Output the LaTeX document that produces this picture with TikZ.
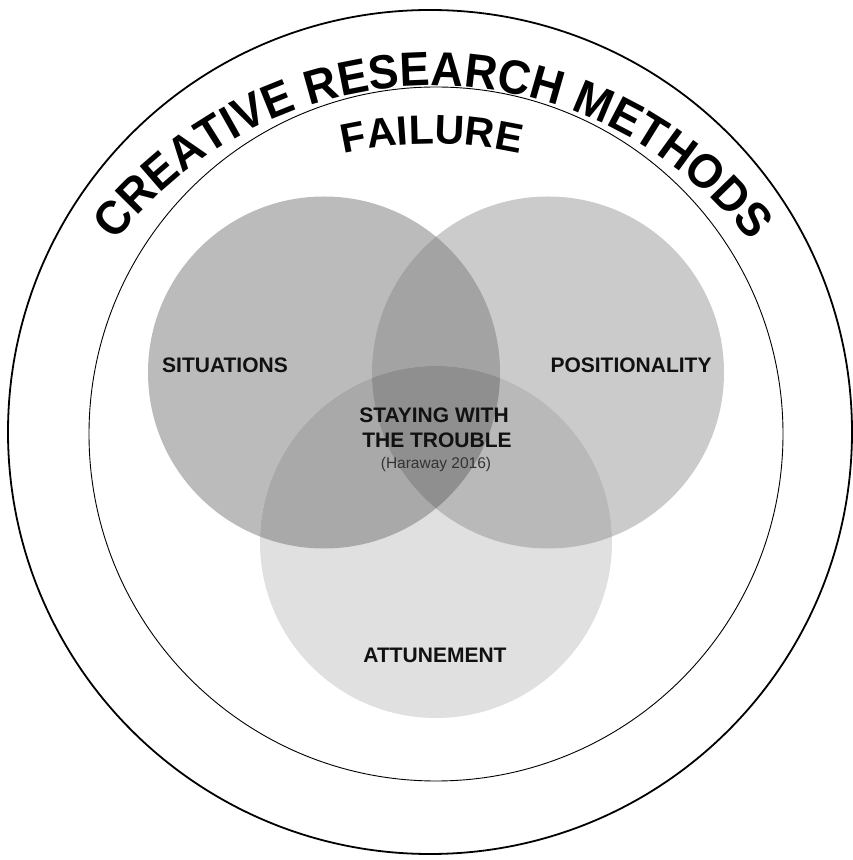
\documentclass[tikz,border=0pt]{standalone}
\usepackage{fontspec}
\setmainfont{Liberation Sans}
\newfontfamily\titlefont[FakeStretch=0.94]{Liberation Sans}
\usetikzlibrary{decorations.text,calc}
\definecolor{cL}{HTML}{BBBBBB}
\definecolor{cR}{HTML}{CBCBCB}
\definecolor{cB}{HTML}{E0E0E0}
\definecolor{cLR}{HTML}{A3A3A3}
\definecolor{cLB}{HTML}{A9A9A9}
\definecolor{cRB}{HTML}{B9B9B9}
\definecolor{cLRB}{HTML}{8F8F8F}
\definecolor{txt}{HTML}{111111}
\definecolor{subtxt}{HTML}{333333}
\tikzset{
  label/.style={font=\fontsize{21}{24}\selectfont\bfseries, text=txt, inner sep=0pt, align=center},
  sublabel/.style={font=\fontsize{15.5}{18}\selectfont, text=subtxt, inner sep=0pt},
  outerring/.style={draw=black, line width=1.8pt},
  innerring/.style={draw=black, line width=0.9pt},
}
\begin{document}
\begin{tikzpicture}[x=1pt,y=1pt]
\useasboundingbox (0,0) rectangle (853,860);
\fill[white] (0,0) rectangle (853,860);
% centres
\coordinate (oc) at (430,428);
\coordinate (ic) at (436,426);
\coordinate (lc) at (324,487.5);
\coordinate (rc) at (548,487.5);
\coordinate (bc) at (436,318);
\coordinate (tc) at (433,374);
\coordinate (fc) at (432,316);
% rings
\draw[outerring] (oc) circle[radius=422];
\draw[innerring] (ic) circle[radius=347];
% venn
\fill[cL] (lc) circle[radius=176];
\fill[cR] (rc) circle[radius=176];
\fill[cB] (bc) circle[radius=176];
\begin{scope}
  \clip (lc) circle[radius=176];
  \fill[cLR] (rc) circle[radius=176];
  \fill[cLB] (bc) circle[radius=176];
\end{scope}
\begin{scope}
  \clip (rc) circle[radius=176];
  \fill[cRB] (bc) circle[radius=176];
\end{scope}
\begin{scope}
  \clip (lc) circle[radius=176];
  \clip (rc) circle[radius=176];
  \fill[cLRB] (bc) circle[radius=176];
\end{scope}
% curved titles
\path[decorate, decoration={text along path, text align=center,
  text={|\titlefont\fontsize{48}{48}\selectfont\bfseries|CREATIVE RESEARCH METHODS}}]
  ($(tc)+(170:400)$) arc[start angle=170, end angle=10, radius=400];
\path[decorate, decoration={text along path, text align=center,
  text={|\fontsize{41}{41}\selectfont\bfseries|FAILURE}}]
  ($(fc)+(120:400)$) arc[start angle=120, end angle=60, radius=400];
% labels
\node[label] (sit) at (225,495) {SITUATIONS};
\node[label] (pos) at (631,495) {POSITIONALITY};
\node[label] (stay1) at (434,445) {STAYING WITH};
\node[label] (stay2) at (437,420) {THE TROUBLE};
\node[sublabel] (har) at (436,396) {(Haraway 2016)};
\node[label] (att) at (435,205) {ATTUNEMENT};
\end{tikzpicture}
\end{document}
